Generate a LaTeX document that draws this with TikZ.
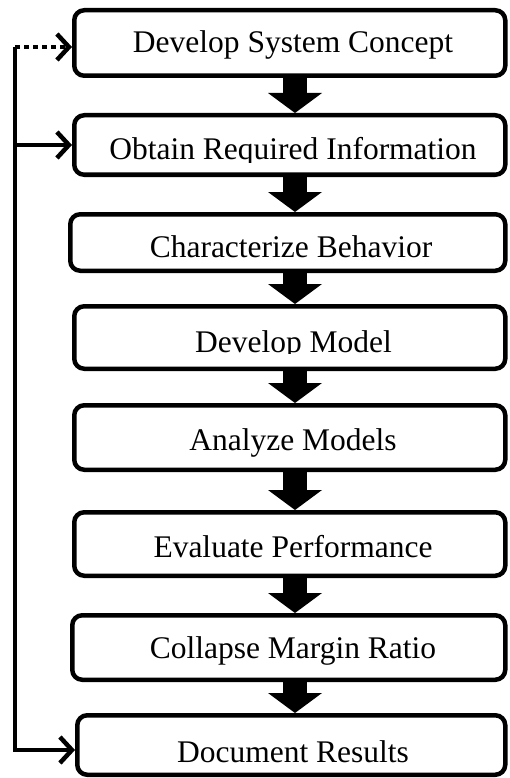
\documentclass[tikz,border=0pt]{standalone}
\usepackage{fontspec}
\setmainfont{Liberation Serif}
\usetikzlibrary{arrows.meta,calc}
\begin{document}
\begin{tikzpicture}[x=1pt,y=-1pt,
  box/.style={draw=black, line width=4.5pt, rounded corners=10pt, inner sep=0pt, fill=white},
  lbl/.style={anchor=base, inner sep=0pt, font=\fontsize{31.5pt}{36pt}\selectfont},
  blockarrow/.style={line width=24pt, -{Triangle[length=20pt, width=54pt, line width=0pt]}},
  feedline/.style={draw=black, line width=4.5pt, line join=miter, -{Straight Barb[length=12pt, width=26pt]}}]
\useasboundingbox (0,0) rectangle (509,778);
\coordinate (ax) at (295,0);
% boxes
\node[box, minimum width=431pt, minimum height=65.5pt] (b1) at (289.75,43) {};
\node[box, minimum width=431pt, minimum height=59.5pt] (b2) at (289.75,145) {};
\node[box, minimum width=435pt, minimum height=56.5pt] (b3) at (287.75,242.5) {};
\node[box, minimum width=431pt, minimum height=62.5pt] (b4) at (289.75,337.5) {};
\node[box, minimum width=431pt, minimum height=64.5pt] (b5) at (289.75,437.5) {};
\node[box, minimum width=431pt, minimum height=63.5pt] (b6) at (289.75,544) {};
\node[box, minimum width=433pt, minimum height=64.5pt] (b7) at (288.75,647.5) {};
\node[box, minimum width=428pt, minimum height=59.5pt] (b8) at (291.25,745) {};
% labels
\node[lbl] (t1) at (293,53) {Develop System Concept};
\begin{scope}
  \clip (74,117) rectangle (506,163);
  \node[lbl] (t2) at (293,160) {Obtain Required Information};
\end{scope}
\node[lbl] (t3) at (291,257) {Characterize Behavior};
\begin{scope}
  \clip (74,308) rectangle (506,353.5);
  \node[lbl] (t4) at (293.5,352) {Develop Model};
\end{scope}
\node[lbl] (t5) at (293,450) {Analyze Models};
\node[lbl] (t6) at (293,557) {Evaluate Performance};
\node[lbl] (t7) at (293,658) {Collapse Margin Ratio};
\node[lbl] (t8) at (293,762) {Document Results};
% block arrows
\foreach \a/\b in {b1/b2,b2/b3,b3/b4,b4/b5,b5/b6,b6/b7,b7/b8}
  \draw[blockarrow] (\a.south -| ax) -- (\b.north -| ax);
% feedback line
\coordinate (c1) at (15,47);
\coordinate (c8) at (15,750);
\draw[feedline, dash pattern=on 5pt off 4pt] (c1) -- (b1.west |- c1);
\draw[feedline] (c1) -- (c8) -- (b8.west |- c8);
\draw[feedline] (c1 |- b2.west) -- (b2.west);
\end{tikzpicture}
\end{document}
